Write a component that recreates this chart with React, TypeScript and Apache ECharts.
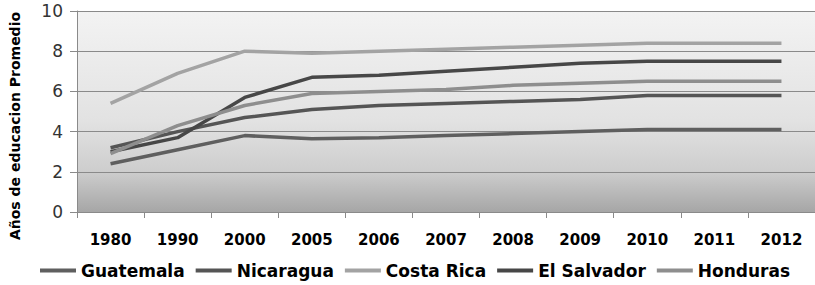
import React, { useEffect, useRef } from "react";
import * as echarts from "echarts";

const categories = ["1980", "1990", "2000", "2005", "2006", "2007", "2008", "2009", "2010", "2011", "2012"];
const guatemala = [2.4, 3.1, 3.8, 3.65, 3.7, 3.8, 3.9, 4.0, 4.1, 4.1, 4.1];
const nicaragua = [3.2, 4.0, 4.7, 5.1, 5.3, 5.4, 5.5, 5.6, 5.8, 5.8, 5.8];
const costaRica = [5.4, 6.9, 8.0, 7.9, 8.0, 8.1, 8.2, 8.3, 8.4, 8.4, 8.4];
const elSalvador = [3.0, 3.7, 5.7, 6.7, 6.8, 7.0, 7.2, 7.4, 7.5, 7.5, 7.5];
const honduras = [2.9, 4.3, 5.3, 5.9, 6.0, 6.1, 6.3, 6.4, 6.5, 6.5, 6.5];
const yTicks = [0, 2, 4, 6, 8, 10];

const seriesList = [
  { name: "Guatemala", data: guatemala, color: "#5f5f5f" },
  { name: "Nicaragua", data: nicaragua, color: "#555555" },
  { name: "Costa Rica", data: costaRica, color: "#a3a3a3" },
  { name: "El Salvador", data: elSalvador, color: "#474747" },
  { name: "Honduras", data: honduras, color: "#8e8e8e" },
];

export default function App() {
  const ref = useRef<HTMLDivElement>(null);
  useEffect(() => {
    if (!ref.current) return;
    const chart = echarts.init(ref.current, null, { renderer: "svg" });
    chart.setOption({
      animation: false,
      grid: {
        left: 77,
        right: 0,
        top: 11,
        bottom: 73,
        show: true,
        borderWidth: 0,
        backgroundColor: new echarts.graphic.LinearGradient(0, 0, 0, 1, [
          { offset: 0, color: "#f3f3f3" },
          { offset: 0.55, color: "#e2e2e2" },
          { offset: 0.8, color: "#cdcdcd" },
          { offset: 1, color: "#a6a6a6" },
        ]),
      },
      xAxis: {
        type: "category",
        data: categories,
        boundaryGap: true,
        axisLine: { show: true, lineStyle: { color: "#8a8a8a", width: 1 } },
        axisTick: { show: true, length: 6, lineStyle: { color: "#8a8a8a" } },
        axisLabel: {
          margin: 20,
          color: "#000",
          fontFamily: "DejaVu Sans",
          fontWeight: "bold",
          fontSize: 15,
        },
      },
      yAxis: {
        type: "value",
        min: yTicks[0],
        max: yTicks[yTicks.length - 1],
        interval: 2,
        axisLine: { show: true, lineStyle: { color: "#8a8a8a", width: 1 } },
        axisTick: { show: true, length: 7, lineStyle: { color: "#8a8a8a" } },
        splitLine: { show: true, lineStyle: { color: "#8a8a8a", width: 1 } },
        axisLabel: {
          margin: 14,
          color: "#333",
          fontFamily: "DejaVu Sans",
          fontSize: 17,
        },
      },
      legend: {
        bottom: 1,
        left: 35,
        icon: "rect",
        itemWidth: 36,
        itemHeight: 4,
        itemGap: 11,
        textStyle: {
          color: "#000",
          fontFamily: "DejaVu Sans",
          fontWeight: "bold",
          fontSize: 17,
        },
        data: seriesList.map((s) => s.name),
      },
      graphic: [
        {
          type: "text",
          x: 15,
          y: 126,
          rotation: Math.PI / 2,
          style: {
            text: "Años de educacion Promedio",
            fontFamily: "DejaVu Sans",
            fontWeight: "bold",
            fontSize: 14,
            fill: "#000",
            textAlign: "center",
            textVerticalAlign: "middle",
          },
        },
      ],
      series: seriesList.map((s) => ({
        name: s.name,
        type: "line",
        data: s.data,
        showSymbol: false,
        symbol: "none",
        color: s.color,
        lineStyle: { color: s.color, width: 3.5 },
      })),
    });
    return () => chart.dispose();
  }, []);
  return <div ref={ref} style={{ width: 815, height: 285, position: "absolute", left: 0, top: 0 }} />;
}
